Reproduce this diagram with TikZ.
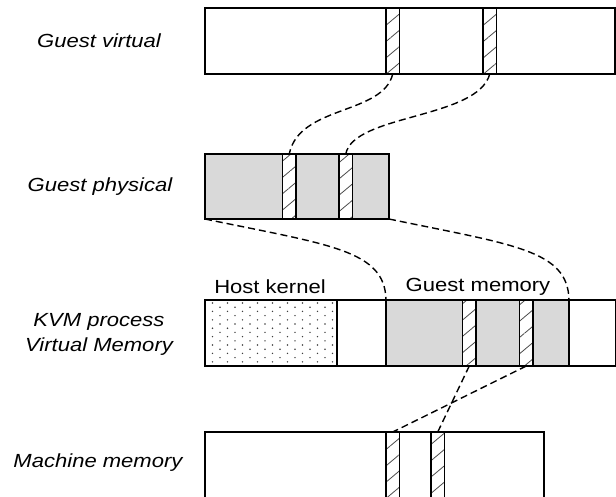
\documentclass[tikz,border=0pt]{standalone}
\usepackage{fontspec}
\setmainfont{Liberation Sans}[FakeStretch=1.16]
\usetikzlibrary{patterns.meta,calc}

\definecolor{memgray}{HTML}{D9D9D9}

\tikzset{
  seg/.style={draw=black, line width=1.2pt, inner sep=0pt, outer sep=0pt,
    anchor=north west},
  used/.style={seg, fill=memgray},
  page/.style={seg, preaction={fill=white},
    pattern={Lines[angle=40, distance=12.5pt, line width=0.8pt]},
    pattern color=black!70},
  dotted area/.style={seg, fill=white, path picture={
    \foreach \r in {0,...,15} {
      \pgfmathsetmacro\off{mod(\r,2)*7.5}
      \foreach \c in {0,...,9}
        \fill[black!75] ($(path picture bounding box.north west)+(7.5+\off+15*\c,3+4.2*\r)$) circle (0.8pt);
    }}},
  map/.style={draw=black, line width=1.4pt, dash pattern=on 7pt off 4pt},
  side/.style={font=\itshape\fontsize{19}{25}\selectfont, align=center},
  tag/.style={font=\fontsize{19}{22}\selectfont}
}

\begin{document}
\begin{tikzpicture}[x=1pt, y=-1pt]
  \useasboundingbox (0,0) rectangle (616,496);
  \clip (0,0) rectangle (616,496);

  % row labels
  \node[side] (lgv)  at (99,41)  {Guest virtual};
  \node[side] (lgp)  at (100,187) {Guest physical};
  \node[side] (lkvm) at (99,334) {KVM process\\Virtual Memory};
  \node[side] (lmm)  at (98,463) {Machine memory};

  % guest virtual address space
  \node[seg, minimum width=410pt, minimum height=66pt] (gv) at (205,8) {};
  \node[page, minimum width=13.5pt, minimum height=66pt] (gv1) at (386,8) {};
  \node[page, minimum width=13.5pt, minimum height=66pt] (gv2) at (483,8) {};

  % guest physical memory
  \node[used, minimum width=184pt, minimum height=65pt] (gp) at (205,154) {};
  \node[page, minimum width=13.5pt, minimum height=65pt] (gp1) at (282.5,154) {};
  \node[page, minimum width=13.5pt, minimum height=65pt] (gp2) at (339,154) {};

  % KVM process address space
  \node[seg, fill=white, minimum width=411pt, minimum height=66pt] (kvm) at (205,300) {};
  \node[dotted area, minimum width=132pt, minimum height=66pt] (hk) at (205,300) {};
  \node[used, minimum width=183pt, minimum height=66pt] (gm) at (386,300) {};
  \node[page, minimum width=13.5pt, minimum height=66pt] (k1) at (462.5,300) {};
  \node[page, minimum width=13.5pt, minimum height=66pt] (k2) at (519.5,300) {};
  \node[tag] (thk) at (270,287) {Host kernel};
  \node[tag] (tgm) at (478,287) {Guest memory};

  % machine memory
  \node[seg, minimum width=339pt, minimum height=80pt] (mm) at (205,432) {};
  \node[page, minimum width=13.5pt, minimum height=80pt] (m1) at (386,432) {};
  \node[page, minimum width=13.5pt, minimum height=80pt] (m2) at (431,432) {};

  % mappings
  \draw[map] (gv1.south) .. controls +(-10,41) and +(10,-49) .. (gp1.north);
  \draw[map] (gv2.south) .. controls +(-12,45) and +(8,-40) .. (gp2.north);
  \draw[map] (gp.south west) .. controls +(125,26) and +(-1,-50) .. (gm.north west);
  \draw[map] (gp.south east) .. controls +(125,26) and +(-1,-50) .. (gm.north east);
  \draw[map] (k1.south) -- (m2.north);
  \draw[map] (k2.south) -- (m1.north);
\end{tikzpicture}
\end{document}
